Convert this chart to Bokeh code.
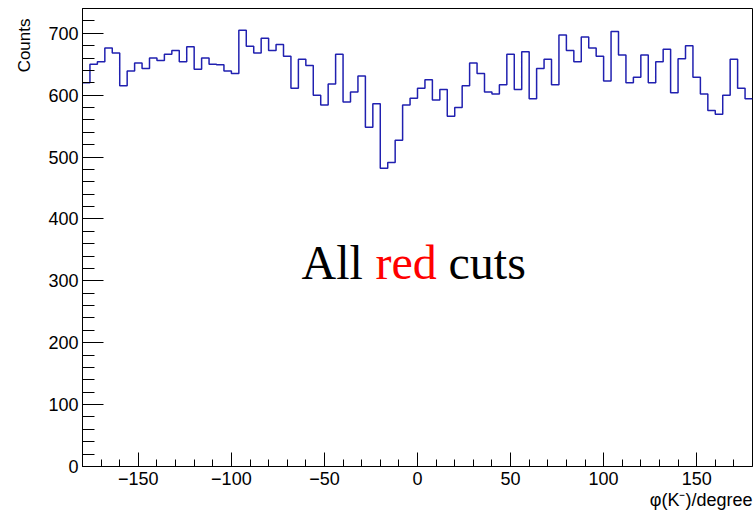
import numpy as np
from bokeh.plotting import figure
from bokeh.models import FixedTicker, Label, Title, Range1d
from bokeh.embed import file_html
from bokeh.resources import INLINE

# Histogram definition (phi(K-) in degrees)
x_min = -180
x_max = 180
n_bins = 90
counts = [
    620, 650, 654, 676, 668, 615, 639, 652, 643, 660,
    656, 666, 672, 654, 678, 642, 660, 650, 649, 639,
    635, 705, 679, 668, 692, 672, 682, 663, 611, 658,
    648, 600, 584, 618, 666, 589, 605, 631, 548, 586,
    482, 491, 527, 584, 595, 611, 625, 592, 609, 566,
    580, 615, 652, 635, 605, 602, 617, 666, 609, 670,
    594, 643, 658, 617, 697, 672, 654, 694, 676, 663,
    623, 703, 665, 620, 629, 665, 620, 654, 674, 604,
    659, 680, 629, 602, 575, 569, 600, 658, 611, 594,
]
x_major_ticks = [-150, -100, -50, 0, 50, 100, 150]
y_major_ticks = [0, 100, 200, 300, 400, 500, 600, 700]
y_max = 740

edges = np.linspace(x_min, x_max, n_bins + 1)
ys = list(counts) + [counts[-1]]

p = figure(width=755, height=511, output_backend="svg", toolbar_location=None,
           x_range=Range1d(x_min, x_max), y_range=Range1d(0, y_max),
           min_border_left=82, min_border_right=3, min_border_top=8, min_border_bottom=45)
p.background_fill_color = "white"
p.border_fill_color = "white"
p.outline_line_color = "black"
p.outline_line_width = 1
p.xgrid.visible = False
p.ygrid.visible = False

p.step(x=edges, y=ys, mode="after", line_color="#2020b0", line_width=1.5)

# axes
p.xaxis.ticker = FixedTicker(ticks=x_major_ticks,
                             minor_ticks=list(range(-170, 180, 10)))
p.yaxis.ticker = FixedTicker(ticks=y_major_ticks,
                             minor_ticks=list(range(0, 741, 20)))
p.xaxis.major_label_overrides = {t: ("\u2212" + str(-t) if t < 0 else str(t)) for t in x_major_ticks}
for ax in (p.xaxis, p.yaxis):
    ax.axis_line_color = "black"
    ax.major_tick_line_color = "black"
    ax.minor_tick_line_color = "black"
    ax.major_tick_out = 0
    ax.minor_tick_out = 0
    ax.major_label_text_font = "Liberation Sans"
    ax.major_label_text_font_size = "18px"
    ax.major_label_text_color = "black"
p.xaxis.major_tick_in = 14
p.xaxis.minor_tick_in = 7
p.yaxis.major_tick_in = 21
p.yaxis.minor_tick_in = 12
p.xaxis.major_label_standoff = 5
p.yaxis.major_label_standoff = 4

p.add_layout(Title(text="Counts", align="right", text_font="Liberation Sans",
                   text_font_size="17px", text_font_style="normal", text_color="black",
                   standoff=24, offset=10), "left")
p.add_layout(Title(text="\u03c6(K\u207b)/degree", align="right", text_font="Liberation Sans",
                   text_font_size="18px", text_font_style="normal", text_color="black",
                   standoff=0), "below")

# annotation "All red cuts"
common = dict(x=-62.3, y=330, text_font="Liberation Serif", text_font_size="48px",
              text_baseline="alphabetic", text_align="left")
p.add_layout(Label(text="All", text_color="black", x_offset=0, **common))
p.add_layout(Label(text="red", text_color="#ff0000", x_offset=74, **common))
p.add_layout(Label(text="cuts", text_color="black", x_offset=147, **common))

open("out.html", "w").write(file_html(p, INLINE))
